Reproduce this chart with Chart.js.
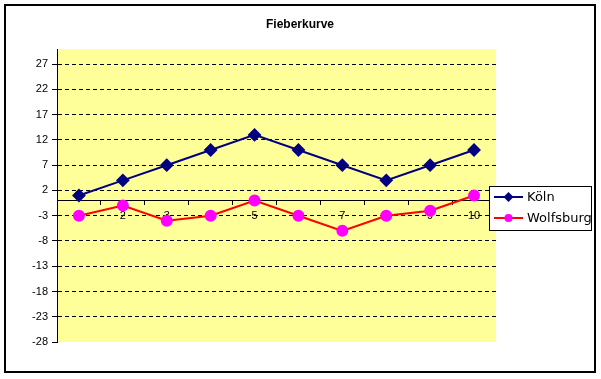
<!DOCTYPE html>
<html>
<head>
<meta charset="utf-8">
<script src="https://cdn.jsdelivr.net/npm/chart.js@4"></script>
<style>
  body { margin: 0; background: #fff; }
  #wrap { width: 601px; height: 379px; }
</style>
</head>
<body>
<div id="wrap"><canvas id="grafico" width="601" height="379"></canvas></div>
<script>
// dados do grafico
const titulo = 'Fieberkurve';
const categorias = ['1', '2', '3', '4', '5', '6', '7', '8', '9', '10'];
const nomesSeries = ['Köln', 'Wolfsburg'];
const valoresKoeln = [1, 4, 7, 10, 13, 10, 7, 4, 7, 10];
const valoresWolfsburg = [-3, -1, -4, -3, 0, -3, -6, -3, -2, 1];
const ticksY = [-28, -23, -18, -13, -8, -3, 2, 7, 12, 17, 22, 27];
const eixoMin = -28;
const eixoMax = 30;

// fundo amarelo da area de plotagem + moldura + titulo + legenda
const moldura = {
    id: 'moldura',
    beforeDraw(chart) {
        const { ctx, chartArea: a } = chart;
        ctx.save();
        ctx.fillStyle = '#FFFF99';
        ctx.fillRect(a.left, a.top, a.right - a.left, a.bottom - a.top);
        ctx.restore();
    },
    afterDraw(chart) {
        const ctx = chart.ctx;
        ctx.save();
        ctx.strokeStyle = '#000';
        ctx.lineWidth = 2;
        ctx.strokeRect(5, 5, 590, 367);

        ctx.fillStyle = '#000';
        ctx.font = 'bold 12px "Liberation Sans", Arial, sans-serif';
        ctx.textAlign = 'center';
        ctx.textBaseline = 'middle';
        ctx.fillText(titulo, 300, 25);

        // legenda
        ctx.fillStyle = '#fff';
        ctx.fillRect(489, 186, 102, 44);
        ctx.lineWidth = 1;
        ctx.strokeStyle = '#000';
        ctx.strokeRect(489.5, 186.5, 102, 44);
        ctx.font = '13px "DejaVu Sans", Tahoma, sans-serif';
        ctx.textAlign = 'left';
        chart.data.datasets.forEach((ds, i) => {
            const y = 197 + i * 21;
            ctx.strokeStyle = ds.borderColor;
            ctx.lineWidth = 2;
            ctx.beginPath();
            ctx.moveTo(494, y);
            ctx.lineTo(523, y);
            ctx.stroke();
            ctx.fillStyle = ds.pointBackgroundColor;
            ctx.beginPath();
            if (ds.pointStyle === 'rectRot') {
                ctx.moveTo(508.5, y - 5);
                ctx.lineTo(513.5, y);
                ctx.lineTo(508.5, y + 5);
                ctx.lineTo(503.5, y);
            } else {
                ctx.arc(508.5, y, 4, 0, Math.PI * 2);
            }
            ctx.closePath();
            ctx.fill();
            ctx.fillStyle = '#000';
            ctx.fillText(ds.label, 527, y + 1);
        });
        ctx.restore();
    }
};

const fonteEixo = { family: '"Liberation Sans", Arial, sans-serif', size: 11 };

new Chart(document.getElementById('grafico').getContext('2d'), {
    type: 'line',
    data: {
        labels: categorias,
        datasets: [
            {
                label: nomesSeries[0],
                data: valoresKoeln,
                borderColor: '#000080',
                backgroundColor: '#000080',
                pointBackgroundColor: '#000080',
                pointBorderColor: '#000080',
                pointStyle: 'rectRot',
                pointRadius: 5.5,
                borderWidth: 2,
                tension: 0
            },
            {
                label: nomesSeries[1],
                data: valoresWolfsburg,
                borderColor: '#FF0000',
                backgroundColor: '#FF00FF',
                pointBackgroundColor: '#FF00FF',
                pointBorderColor: '#FF00FF',
                pointStyle: 'circle',
                pointRadius: 5,
                borderWidth: 2,
                tension: 0
            }
        ]
    },
    options: {
        responsive: false,
        animation: false,
        events: [],
        layout: { padding: { left: 0, top: 49, right: 105, bottom: 37 } },
        plugins: {
            legend: { display: false },
            title: { display: false },
            tooltip: { enabled: false }
        },
        scales: {
            x: {
                position: { y: 0 },
                offset: true,
                grid: {
                    display: true,
                    drawOnChartArea: false,
                    offset: true,
                    tickLength: 4,
                    tickColor: '#000',
                    color: '#000'
                },
                border: { display: true, color: '#000', width: 1 },
                ticks: { color: '#000', font: fonteEixo, padding: 5, maxRotation: 0, autoSkip: false }
            },
            y: {
                min: eixoMin,
                max: eixoMax,
                afterFit(scale) { scale.width = 57; },
                afterBuildTicks(scale) {
                    scale.ticks = ticksY.map(v => ({ value: v }));
                },
                grid: {
                    color: ctx => (ctx.tick && ctx.tick.value === eixoMin ? 'rgba(0,0,0,0)' : '#000'),
                    tickColor: '#000',
                    tickLength: 5,
                    tickBorderDash: [],
                    lineWidth: 1
                },
                border: { display: true, color: '#000', width: 1, dash: [4, 3] },
                ticks: { color: '#000', font: fonteEixo, padding: 4 }
            }
        }
    },
    plugins: [moldura]
});
</script>
</body>
</html>
